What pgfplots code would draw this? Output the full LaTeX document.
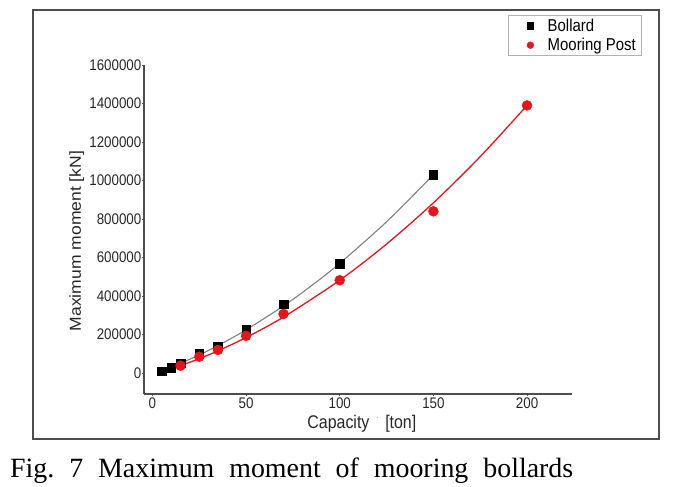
\documentclass[border=0pt]{standalone}
\usepackage{fontspec}
\setmainfont{Liberation Sans}
\newfontfamily\capfont{Liberation Serif}
\usepackage{pgfplots}
\pgfplotsset{compat=1.18}
\definecolor{fitgray}{HTML}{7F7F7F}
\definecolor{postred}{HTML}{E8141B}
\definecolor{axgray}{HTML}{4D4D4D}

\begin{document}
\begin{tikzpicture}
  \useasboundingbox (0,0) rectangle (679bp,-487bp);
  \draw[axgray, line width=1.1bp] (33bp,-10bp) rectangle (659bp,-439bp);
  \begin{axis}[at={(144bp,-394bp)}, anchor=south west,
      width=428bp, height=329bp, scale only axis,
      xmin=-4.5, xmax=224, ymin=-109000, ymax=1600000,
      axis x line*=bottom, axis y line*=left,
      axis line style={-, axgray, line width=1.4bp},
      xtick={0,50,100,150,200}, ytick={0,200000,...,1600000},
      scaled y ticks=false,
      yticklabel style={/pgf/number format/fixed, /pgf/number format/1000 sep={}},
      /pgf/number format/assume math mode=true,
      tick label style={font=\fontsize{13.4}{15}\selectfont, text=black!85, yscale=1.15},
      yticklabel style={inner sep=0.5bp},
      xticklabel style={inner sep=1bp},
      tick align=outside, major tick length=2bp, tick style={axgray, line width=1bp},
      xlabel={\scalebox{1}[1.15]{Capacity \,\raisebox{0.9ex}{\tiny\textperiodcentered}\, [ton]}},
      ylabel={\scalebox{1.1}[1]{Maximum moment [kN]}},
      label style={font=\fontsize{16}{19}\selectfont, text=black!85},
      xlabel style={at={(axis description cs:0.509,-0.091)}, anchor=center},
      ylabel style={at={(axis description cs:-0.157,0.465)}, anchor=center},
      legend style={at={(axis description cs:1.1636,1.152)}, anchor=north east,
        draw=gray!60, line width=0.6bp, font=\fontsize{15}{18}\selectfont,
        cells={anchor=west}, inner xsep=4bp, inner ysep=1.5bp, row sep=1.5bp},
      legend image code/.code={
        \path (0bp,0bp) (33bp,0bp);
        \draw[#1, mark size=3.3bp] plot coordinates {(18bp,0bp)};},
      clip=false]
    % fitted curves
    \addplot[fitgray, line width=1.1bp, smooth, forget plot] coordinates {
      (10,29703) (15,50017) (25,94069) (35,142687) (50,224175) (70,348807)
      (85,454267) (100,570000) (125,785719) (150,1030000)};
    \addplot[postred, line width=1.3bp, smooth, forget plot] coordinates {
      (15,37981) (25,74581) (35,115351) (50,184325) (70,290885) (100,482000)
      (125,669931) (150,883925) (175,1123981) (200,1390000)};
    % data
    \addplot[only marks, mark=square*, mark size=4.3bp, black] coordinates {
      (5,10000) (10,27000) (15,50000) (25,100000) (35,140000) (50,228000)
      (70,358000) (100,567000) (150,1030000)};
    \addlegendentry{\scalebox{1}[1.15]{Bollard}}
    \addplot[only marks, mark=*, mark size=5bp, postred, mark options={draw=postred, fill=postred}] coordinates {
      (15,38000) (25,85000) (35,120000) (50,193000) (70,307000) (100,482000)
      (150,840000) (200,1390000)};
    \addlegendentry{\scalebox{1}[1.15]{Mooring Post}}
  \end{axis}
  \node[anchor=base west, inner sep=0pt] at (10bp,-477bp)
    {\capfont\fontsize{28}{32}\selectfont\makebox[563bp][s]{Fig.\ 7 Maximum moment of mooring bollards}};
\end{tikzpicture}
\end{document}
